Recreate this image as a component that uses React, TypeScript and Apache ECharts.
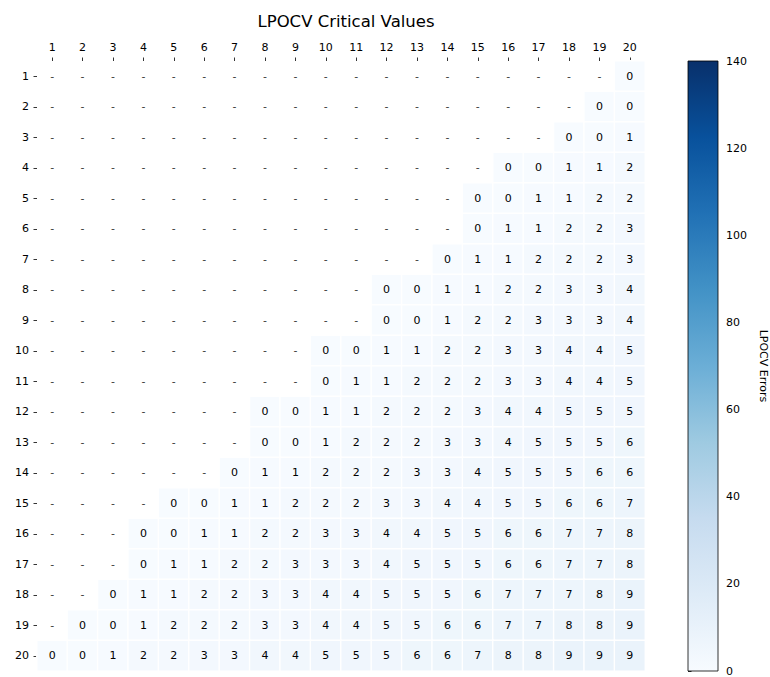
import React, { useEffect, useRef } from "react";
import * as echarts from "echarts";

const TITLE = "LPOCV Critical Values";
const COLORBAR_LABEL = "LPOCV Errors";
const columns = Array.from({ length: 20 }, (_, i) => String(i + 1));
const rowsLabels = Array.from({ length: 20 }, (_, i) => String(i + 1));
// values of each row, filling its rightmost columns (others are "-")
const row1 = [0];
const row2 = [0, 0];
const row3 = [0, 0, 1];
const row4 = [0, 0, 1, 1, 2];
const row5 = [0, 0, 1, 1, 2, 2];
const row6 = [0, 1, 1, 2, 2, 3];
const row7 = [0, 1, 1, 2, 2, 2, 3];
const row8 = [0, 0, 1, 1, 2, 2, 3, 3, 4];
const row9 = [0, 0, 1, 2, 2, 3, 3, 3, 4];
const row10 = [0, 0, 1, 1, 2, 2, 3, 3, 4, 4, 5];
const row11 = [0, 1, 1, 2, 2, 2, 3, 3, 4, 4, 5];
const row12 = [0, 0, 1, 1, 2, 2, 2, 3, 4, 4, 5, 5, 5];
const row13 = [0, 0, 1, 2, 2, 2, 3, 3, 4, 5, 5, 5, 6];
const row14 = [0, 1, 1, 2, 2, 2, 3, 3, 4, 5, 5, 5, 6, 6];
const row15 = [0, 0, 1, 1, 2, 2, 2, 3, 3, 4, 4, 5, 5, 6, 6, 7];
const row16 = [0, 0, 1, 1, 2, 2, 3, 3, 4, 4, 5, 5, 6, 6, 7, 7, 8];
const row17 = [0, 1, 1, 2, 2, 3, 3, 3, 4, 5, 5, 5, 6, 6, 7, 7, 8];
const row18 = [0, 1, 1, 2, 2, 3, 3, 4, 4, 5, 5, 5, 6, 7, 7, 7, 8, 9];
const row19 = [0, 0, 1, 2, 2, 2, 3, 3, 4, 4, 5, 5, 6, 6, 7, 7, 8, 8, 9];
const row20 = [0, 0, 1, 2, 2, 3, 3, 4, 4, 5, 5, 5, 6, 6, 7, 8, 8, 9, 9, 9];
const rowValues = [row1, row2, row3, row4, row5, row6, row7, row8, row9, row10,
  row11, row12, row13, row14, row15, row16, row17, row18, row19, row20];
const colorMin = 0;
const colorMax = 140;
const blues = ["#f7fbff", "#deebf7", "#c6dbef", "#9ecae1", "#6baed6", "#4292c6", "#2171b5", "#08519c", "#08306b"];

const FONT = "DejaVu Sans";
const FS = 11;

export default function App() {
  const ref = useRef<HTMLDivElement>(null);
  useEffect(() => {
    document.body.style.margin = "0";
    const chart = echarts.init(ref.current!, null, { renderer: "svg" });
    const cells: any[] = [];
    const dashes: any[] = [];
    rowValues.forEach((vals, r) => {
      const start = columns.length - vals.length;
      for (let c = 0; c < columns.length; c++) {
        if (c >= start) cells.push([c, r, vals[c - start]]);
        else dashes.push([c, r]);
      }
    });
    const gL = 37, gR = 645, gT = 61, gB = 671;
    const cbL = 688, cbW = 30;
    chart.setOption({
      animation: false,
      backgroundColor: "#fff",
      textStyle: { fontFamily: FONT },
      title: {
        text: TITLE,
        left: (gL + gR) / 2,
        textAlign: "center",
        top: 8,
        textStyle: { fontFamily: FONT, fontSize: 16.5, fontWeight: "normal", color: "#000" },
      },
      grid: [
        { left: gL, top: gT, width: gR - gL, height: gB - gT },
        { left: cbL, top: gT, width: cbW, height: gB - gT },
      ],
      xAxis: [
        {
          type: "category",
          data: columns,
          position: "top",
          gridIndex: 0,
          axisLine: { show: false },
          axisTick: { show: true, alignWithLabel: true, length: 3.5, lineStyle: { color: "#000", width: 0.8 } },
          axisLabel: { fontFamily: FONT, fontSize: FS, color: "#000", margin: 8 },
          splitLine: { show: false },
        },
        { type: "value", gridIndex: 1, show: false, min: 0, max: 1 },
      ],
      yAxis: [
        {
          type: "category",
          data: rowsLabels,
          inverse: true,
          gridIndex: 0,
          axisLine: { show: false },
          axisTick: { show: true, alignWithLabel: true, length: 3.5, lineStyle: { color: "#000", width: 0.8 } },
          axisLabel: { fontFamily: FONT, fontSize: FS, color: "#000", margin: 8 },
          splitLine: { show: false },
        },
        {
          type: "value",
          gridIndex: 1,
          min: colorMin,
          max: colorMax,
          interval: 20,
          position: "right",
          axisLine: { show: false },
          axisTick: { show: true, length: 3.5, lineStyle: { color: "#000", width: 0.8 } },
          axisLabel: { fontFamily: FONT, fontSize: FS, color: "#000", margin: 8 },
          splitLine: { show: false },
          name: COLORBAR_LABEL,
          nameLocation: "middle",
          nameRotate: -90,
          nameGap: 40,
          nameTextStyle: { fontFamily: FONT, fontSize: FS, color: "#000" },
        },
      ],
      visualMap: {
        type: "continuous",
        show: false,
        min: colorMin,
        max: colorMax,
        seriesIndex: 0,
        dimension: 2,
        inRange: { color: blues },
      },
      graphic: [
        {
          type: "rect",
          shape: { x: cbL, y: gT, width: cbW, height: gB - gT },
          style: {
            fill: new echarts.graphic.LinearGradient(0, 1, 0, 0,
              blues.map((c, i) => ({ offset: i / (blues.length - 1), color: c }))),
            stroke: "#000",
            lineWidth: 0.8,
          },
          z: 10,
        },
      ],
      series: [
        {
          type: "heatmap",
          xAxisIndex: 0,
          yAxisIndex: 0,
          data: cells,
          itemStyle: { borderColor: "#fff", borderWidth: 1.4 },
          label: {
            show: true,
            fontFamily: FONT,
            fontSize: FS,
            color: "#000",
            formatter: (p: any) => String(p.value[2]),
          },
          emphasis: { disabled: true },
        },
        {
          type: "scatter",
          xAxisIndex: 0,
          yAxisIndex: 0,
          data: dashes,
          symbolSize: 0,
          label: {
            show: true,
            position: "inside",
            fontFamily: FONT,
            fontSize: FS,
            color: "#000",
            formatter: () => "-",
          },
          emphasis: { disabled: true },
        },
      ],
    });
    return () => chart.dispose();
  }, []);
  return <div ref={ref} style={{ width: 770, height: 677 }} />;
}
